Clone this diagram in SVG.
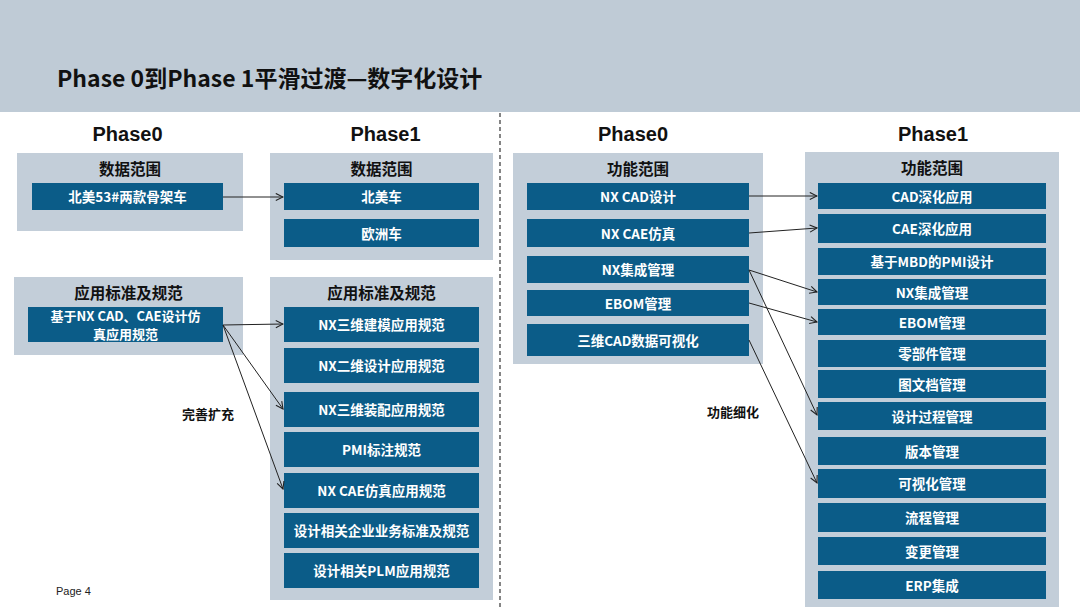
<svg xmlns="http://www.w3.org/2000/svg" width="1080" height="607" viewBox="0 0 1080 607">
<defs>
<style>
.band{fill:#bfcbd6}
.panel{fill:#c3ced9}
.box{fill:#0b5c88}
.bt{font-family:"Noto Sans CJK SC","Liberation Sans",sans-serif;font-weight:bold;font-size:13.5px;fill:#ffffff;text-anchor:middle;dominant-baseline:central}
.bt2{font-family:"Noto Sans CJK SC","Liberation Sans",sans-serif;font-weight:bold;font-size:13px;fill:#ffffff;text-anchor:middle;dominant-baseline:central}
.pt{font-family:"Noto Sans CJK SC","Liberation Sans",sans-serif;font-weight:bold;font-size:15.5px;fill:#111111;text-anchor:middle;dominant-baseline:central}
.ph{font-family:"Liberation Sans",Arial,sans-serif;font-weight:bold;font-size:20px;fill:#111111;text-anchor:middle}
.lbl{font-family:"Noto Sans CJK SC","Liberation Sans",sans-serif;font-weight:bold;font-size:13px;fill:#111111;text-anchor:middle;dominant-baseline:central}
.conn{stroke:#222222;stroke-width:1;fill:none;marker-end:url(#arr)}
</style>
<marker id="arr" viewBox="0 0 10 10" refX="9" refY="5" markerWidth="9" markerHeight="9" markerUnits="userSpaceOnUse" orient="auto">
<path d="M1,1 L9,5 L1,9" fill="none" stroke="#222222" stroke-width="1.2"/>
</marker>
</defs>
<rect x="0" y="0" width="1080" height="607" fill="#ffffff"/>
<rect class="band" x="0" y="0" width="1080" height="112"/>
<text x="57" y="87" font-family="'Noto Sans CJK SC','Liberation Sans',sans-serif" font-weight="bold" font-size="23" fill="#111111">Phase 0到Phase 1平滑过渡—数字化设计</text>
<line x1="500" y1="113" x2="500" y2="607" stroke="#444444" stroke-width="1.3" stroke-dasharray="4,3"/>

<text class="ph" x="127.5" y="141">Phase0</text>
<text class="ph" x="385.5" y="141">Phase1</text>
<text class="ph" x="633" y="141">Phase0</text>
<text class="ph" x="933" y="141">Phase1</text>

<g id="l-p0-data">
<rect class="panel" x="17" y="153" width="226" height="78"/>
<text class="pt" x="130" y="167.5">数据范围</text>
<rect class="box" x="32" y="183" width="191" height="27"/>
<text class="bt" x="127.5" y="196">北美53#两款骨架车</text>
</g>

<g id="l-p1-data">
<rect class="panel" x="270" y="153" width="223" height="107"/>
<text class="pt" x="381.5" y="167.5">数据范围</text>
<rect class="box" x="284" y="183" width="195" height="27"/>
<text class="bt" x="381.5" y="196">北美车</text>
<rect class="box" x="284" y="219" width="195" height="28"/>
<text class="bt" x="381.5" y="232.5">欧洲车</text>
</g>

<g id="l-p0-std">
<rect class="panel" x="14" y="277" width="229" height="78"/>
<text class="pt" x="128.5" y="291.5">应用标准及规范</text>
<rect class="box" x="28" y="307" width="195" height="35"/>
<text class="bt2" x="125.5" y="315">基于NX CAD、CAE设计仿</text>
<text class="bt2" x="125.5" y="333.5">真应用规范</text>
</g>

<g id="l-p1-std">
<rect class="panel" x="270" y="277" width="223" height="323"/>
<text class="pt" x="381.5" y="291.5">应用标准及规范</text>
<rect class="box" x="284" y="307" width="195" height="35"/>
<text class="bt" x="381.5" y="324">NX三维建模应用规范</text>
<rect class="box" x="284" y="348" width="195" height="35"/>
<text class="bt" x="381.5" y="365">NX二维设计应用规范</text>
<rect class="box" x="284" y="392" width="195" height="35"/>
<text class="bt" x="381.5" y="409">NX三维装配应用规范</text>
<rect class="box" x="284" y="432" width="195" height="35"/>
<text class="bt" x="381.5" y="449">PMI标注规范</text>
<rect class="box" x="284" y="473" width="195" height="35"/>
<text class="bt" x="381.5" y="490">NX CAE仿真应用规范</text>
<rect class="box" x="284" y="513" width="195" height="35"/>
<text class="bt" x="381.5" y="530">设计相关企业业务标准及规范</text>
<rect class="box" x="284" y="553" width="195" height="35"/>
<text class="bt" x="381.5" y="570">设计相关PLM应用规范</text>
</g>

<g id="r-p0-func">
<rect class="panel" x="513" y="153" width="250" height="211"/>
<text class="pt" x="638" y="167.5">功能范围</text>
<rect class="box" x="527" y="183" width="222" height="27"/>
<text class="bt" x="638" y="196">NX CAD设计</text>
<rect class="box" x="527" y="219" width="222" height="28"/>
<text class="bt" x="638" y="232.5">NX CAE仿真</text>
<rect class="box" x="527" y="256" width="222" height="27"/>
<text class="bt" x="638" y="269">NX集成管理</text>
<rect class="box" x="527" y="290" width="222" height="26"/>
<text class="bt" x="638" y="302.5">EBOM管理</text>
<rect class="box" x="527" y="324" width="222" height="32"/>
<text class="bt" x="638" y="339.5">三维CAD数据可视化</text>
</g>

<g id="r-p1-func">
<rect class="panel" x="805" y="152" width="254" height="455"/>
<text class="pt" x="932" y="166.5">功能范围</text>
<rect class="box" x="818" y="183" width="228" height="26"/>
<text class="bt" x="932" y="195.5">CAD深化应用</text>
<rect class="box" x="818" y="214" width="228" height="29"/>
<text class="bt" x="932" y="228">CAE深化应用</text>
<rect class="box" x="818" y="248" width="228" height="27"/>
<text class="bt" x="932" y="261">基于MBD的PMI设计</text>
<rect class="box" x="818" y="279" width="228" height="26"/>
<text class="bt" x="932" y="291.5">NX集成管理</text>
<rect class="box" x="818" y="309" width="228" height="26"/>
<text class="bt" x="932" y="321.5">EBOM管理</text>
<rect class="box" x="818" y="340" width="228" height="27"/>
<text class="bt" x="932" y="353">零部件管理</text>
<rect class="box" x="818" y="370" width="228" height="28"/>
<text class="bt" x="932" y="383.5">图文档管理</text>
<rect class="box" x="818" y="402" width="228" height="28"/>
<text class="bt" x="932" y="415.5">设计过程管理</text>
<rect class="box" x="818" y="437" width="228" height="28"/>
<text class="bt" x="932" y="450.5">版本管理</text>
<rect class="box" x="818" y="469" width="228" height="29"/>
<text class="bt" x="932" y="483">可视化管理</text>
<rect class="box" x="818" y="503" width="228" height="29"/>
<text class="bt" x="932" y="517">流程管理</text>
<rect class="box" x="818" y="537" width="228" height="28"/>
<text class="bt" x="932" y="550.5">变更管理</text>
<rect class="box" x="818" y="571" width="228" height="28"/>
<text class="bt" x="932" y="584.5">ERP集成</text>
</g>

<g id="connectors">
<line class="conn" x1="223" y1="197" x2="283" y2="197"/>
<line class="conn" x1="223" y1="325" x2="283" y2="324"/>
<line class="conn" x1="223" y1="325" x2="283" y2="409"/>
<line class="conn" x1="223" y1="325" x2="283" y2="489"/>
<line class="conn" x1="749" y1="196" x2="817" y2="196"/>
<line class="conn" x1="749" y1="233" x2="817" y2="228"/>
<line class="conn" x1="749" y1="270" x2="817" y2="292"/>
<line class="conn" x1="749" y1="270" x2="817" y2="415"/>
<line class="conn" x1="749" y1="303" x2="817" y2="322"/>
<line class="conn" x1="749" y1="340" x2="817" y2="483"/>
</g>

<text class="lbl" x="208" y="413.5">完善扩充</text>
<text class="lbl" x="733" y="411.5">功能细化</text>
<text x="56" y="595" font-family="'Liberation Sans',Arial,sans-serif" font-size="11" fill="#222222">Page 4</text>
</svg>
